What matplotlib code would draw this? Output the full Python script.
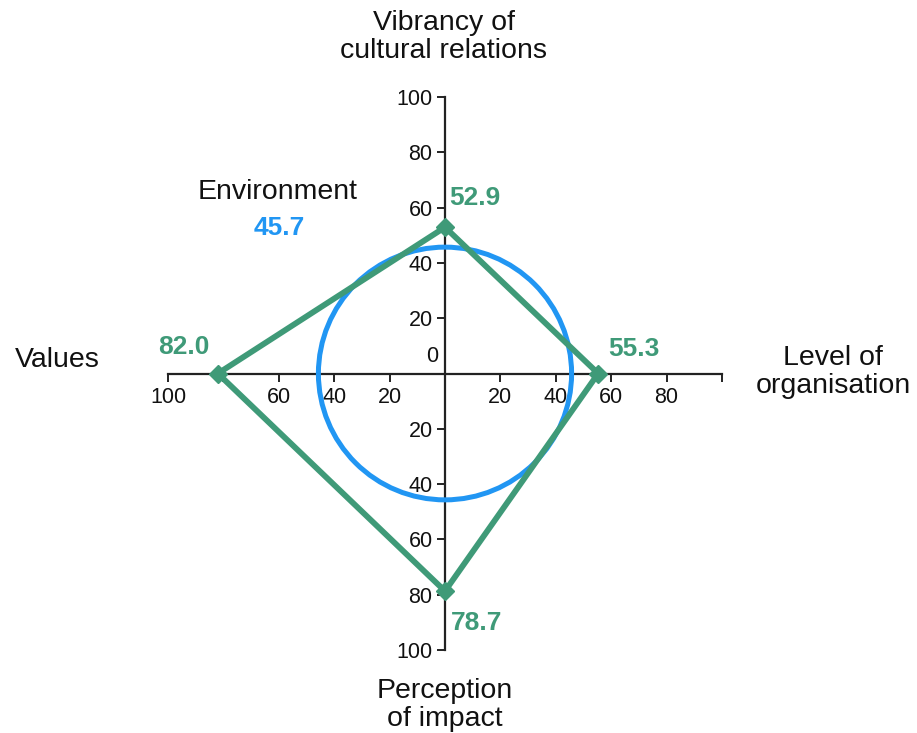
import matplotlib
matplotlib.use("Agg")
import matplotlib.pyplot as plt
from matplotlib.patches import Circle
from matplotlib.ticker import FixedLocator, FixedFormatter

plt.rcParams["font.family"] = ["Liberation Sans", "DejaVu Sans"]

# data
axis_names = ["Vibrancy of\ncultural relations", "Level of\norganisation",
              "Perception\nof impact", "Values"]
axis_dirs = [(0, 1), (1, 0), (0, -1), (-1, 0)]
scores = [52.9, 55.3, 78.7, 82.0]
env_name = "Environment"
env_value = 45.7

x_ticks = [-100, -80, -60, -40, -20, 20, 40, 60, 80, 100]
x_labels = ["100", "", "60", "40", "20", "20", "40", "60", "80", ""]
y_ticks = [100, 80, 60, 40, 20, -20, -40, -60, -80, -100]
y_labels = ["100", "80", "60", "40", "20", "20", "40", "60", "80", "100"]

GREEN = "#3f9a78"
BLUE = "#2196f3"
AXC = "#222222"

W, H = 917, 733
fig = plt.figure(figsize=(W / 100, H / 100), dpi=100)
ax = fig.add_axes([168 / W, (H - 650) / H, 554 / W, 553 / H])
ax.set_xlim(-100, 100)
ax.set_ylim(-100, 100)

for side in ("top", "right"):
    ax.spines[side].set_visible(False)
for side in ("left", "bottom"):
    ax.spines[side].set_position("zero")
    ax.spines[side].set_linewidth(1.6)
    ax.spines[side].set_color(AXC)

ax.xaxis.set_major_locator(FixedLocator(x_ticks))
ax.xaxis.set_major_formatter(FixedFormatter(x_labels))
ax.yaxis.set_major_locator(FixedLocator(y_ticks))
ax.yaxis.set_major_formatter(FixedFormatter(y_labels))
ax.tick_params(axis="both", direction="out", length=6, width=1.4,
               color=AXC, labelsize=15.5, labelcolor="#111111")
ax.tick_params(axis="x", pad=4)
ax.tick_params(axis="y", pad=3)
ax.text(-2.5, 2.5, "0", ha="right", va="bottom", fontsize=15.5, color="#111111")

# environment circle
ax.add_patch(Circle((0, 0), env_value, fill=False, edgecolor=BLUE,
                    linewidth=3.6, zorder=3))

# score polygon
xs = [d[0] * v for d, v in zip(axis_dirs, scores)]
ys = [d[1] * v for d, v in zip(axis_dirs, scores)]
ax.plot(xs + xs[:1], ys + ys[:1], color=GREEN, linewidth=4.2, zorder=4,
        solid_joinstyle="miter")
ax.plot(xs, ys, linestyle="none", marker="D", markersize=9.5,
        color=GREEN, zorder=5, clip_on=False)

# value labels (offsets in points from each marker)
offsets = [((3, 21), "left"), ((7, 18), "left"), ((4, -23), "left"), ((-6, 19), "right")]
for x, y, v, (off, ha) in zip(xs, ys, scores, offsets):
    ax.annotate(f"{v:.1f}", (x, y), xytext=off, textcoords="offset points",
                ha=ha, va="center", fontsize=19, fontweight="bold",
                color=GREEN, zorder=6)

# axis titles
title_pos = [(444, 37), (833, 372), (445, 705), (57, 360)]
for name, (px, py) in zip(axis_names, title_pos):
    fig.text(px / W, 1 - py / H, name, ha="center", va="center",
             fontsize=20.5, color="#111111", linespacing=1.12)

fig.text(278 / W, 1 - 192 / H, env_name, ha="center", va="center",
         fontsize=20.5, color="#111111")
fig.text(279 / W, 1 - 228 / H, f"{env_value:.1f}", ha="center", va="center",
         fontsize=19, fontweight="bold", color=BLUE)

fig.savefig("out.png", dpi=100)
